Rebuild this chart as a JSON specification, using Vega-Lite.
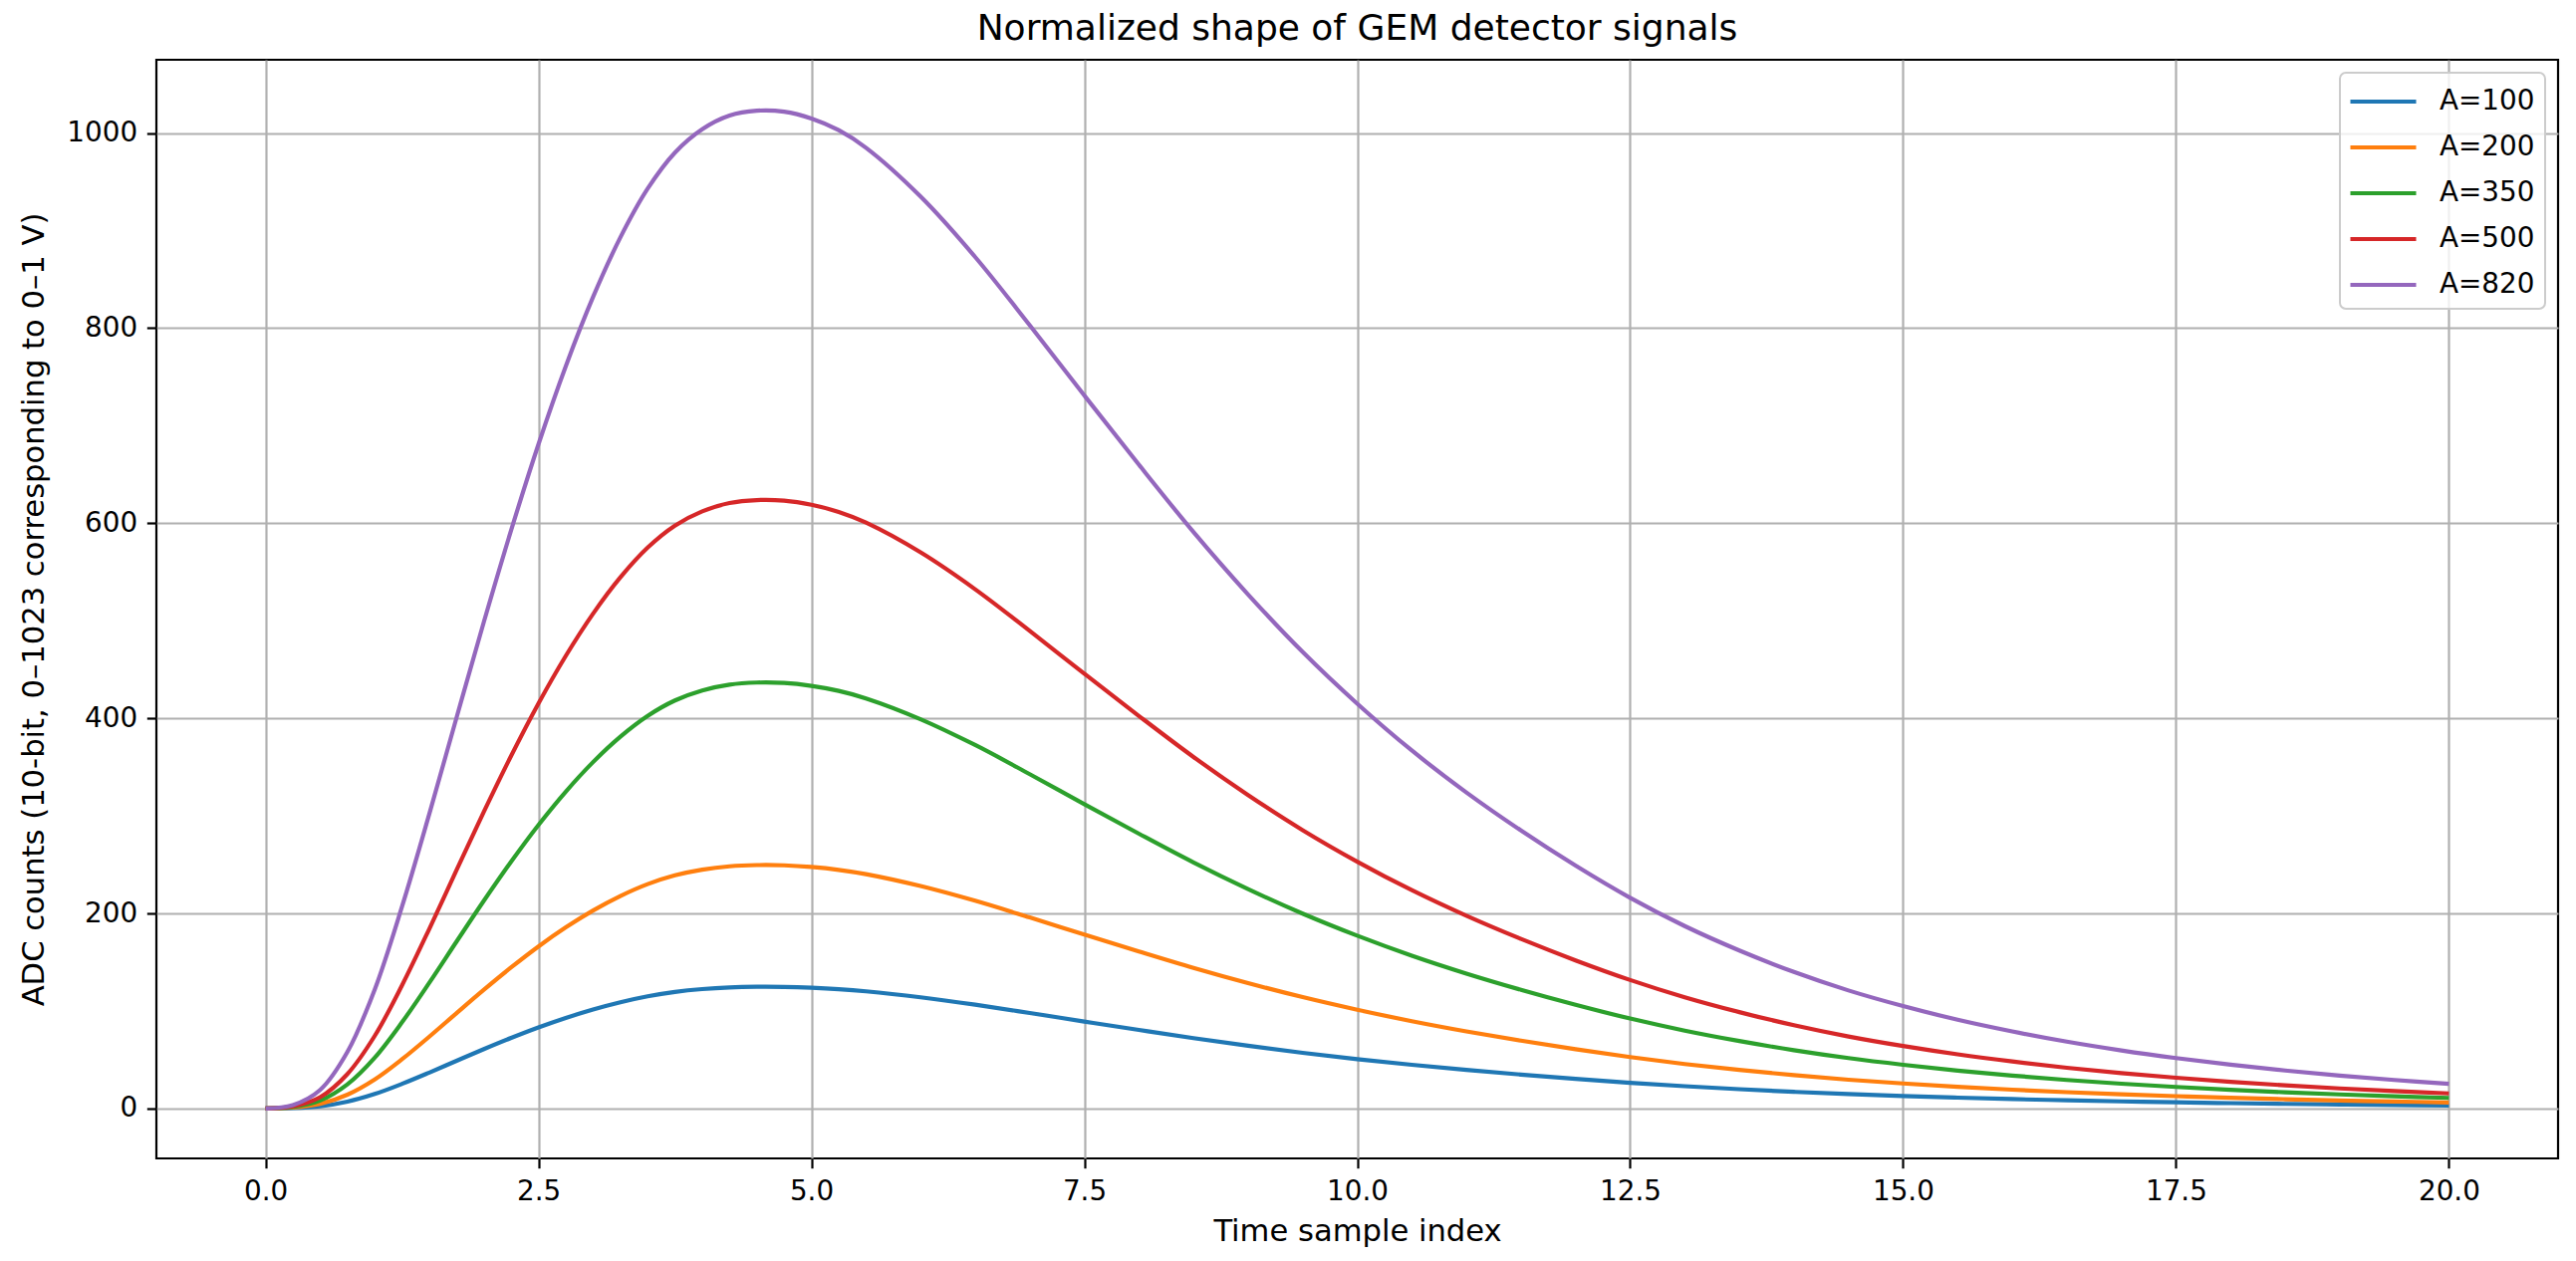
{
"$schema": "https://vega.github.io/schema/vega-lite/v6.json",
"width": 2411, "height": 1103,
"autosize": {"type": "none"},
"padding": {"left": 157, "top": 60, "right": 18, "bottom": 103},
"background": "white",
"title": {"text": "Normalized shape of GEM detector signals", "fontSize": 36, "font": "DejaVu Sans", "fontWeight": "normal", "color": "black", "anchor": "middle", "frame": "group", "offset": 12},
"config": {
 "view": {"stroke": "black", "strokeWidth": 2.2},
 "axis": {"domain": false, "tickColor": "black", "tickSize": 9.7, "tickWidth": 2.2, "labelFont": "DejaVu Sans", "labelFontSize": 27.8, "labelColor": "black", "labelPadding": 9.7, "labelFlush": false, "labelOverlap": false, "titleFont": "DejaVu Sans", "titleFontSize": 30.6, "titleFontWeight": "normal", "titleColor": "black", "gridColor": "#b0b0b0", "gridWidth": 2.2, "gridOpacity": 1, "titlePadding": 11},
 "legend": {"symbolType": "M-2,0H2", "symbolSize": 1089, "symbolStrokeWidth": 4.17, "symbolOffset": 14.5, "labelOffset": 37.5, "labelFont": "DejaVu Sans", "labelFontSize": 27.8, "labelColor": "black", "rowPadding": 13, "padding": 10, "strokeColor": "#cccccc", "strokeWidth": 2, "cornerRadius": 6, "fillColor": "rgba(255,255,255,0.8)", "offset": 13, "symbolOpacity": 1}
},
"data": {"values": [
{"s":"A=100","t":0,"v":0},{"s":"A=100","t":0.25,"v":0.43},{"s":"A=100","t":0.5,"v":2.32},{"s":"A=100","t":0.75,"v":7.07},{"s":"A=100","t":1,"v":14.88},{"s":"A=100","t":1.25,"v":25.24},{"s":"A=100","t":1.5,"v":36.83},{"s":"A=100","t":1.75,"v":48.9},{"s":"A=100","t":2,"v":60.85},{"s":"A=100","t":2.25,"v":72.32},{"s":"A=100","t":2.5,"v":83.05},{"s":"A=100","t":2.75,"v":92.8},{"s":"A=100","t":3,"v":101.46},{"s":"A=100","t":3.25,"v":108.9},{"s":"A=100","t":3.5,"v":115.0},{"s":"A=100","t":3.75,"v":119.51},{"s":"A=100","t":4,"v":122.44},{"s":"A=100","t":4.25,"v":124.15},{"s":"A=100","t":4.5,"v":124.76},{"s":"A=100","t":4.75,"v":124.63},{"s":"A=100","t":5,"v":123.78},{"s":"A=100","t":5.25,"v":122.32},{"s":"A=100","t":5.5,"v":120.12},{"s":"A=100","t":6,"v":114.02},{"s":"A=100","t":6.5,"v":106.46},{"s":"A=100","t":7,"v":97.93},{"s":"A=100","t":7.5,"v":89.15},{"s":"A=100","t":8,"v":80.49},{"s":"A=100","t":8.5,"v":72.07},{"s":"A=100","t":9,"v":64.27},{"s":"A=100","t":9.5,"v":57.07},{"s":"A=100","t":10,"v":50.61},{"s":"A=100","t":10.5,"v":44.76},{"s":"A=100","t":11,"v":39.51},{"s":"A=100","t":11.5,"v":34.76},{"s":"A=100","t":12,"v":30.37},{"s":"A=100","t":12.5,"v":26.34},{"s":"A=100","t":13,"v":22.8},{"s":"A=100","t":13.5,"v":19.76},{"s":"A=100","t":14,"v":17.07},{"s":"A=100","t":14.5,"v":14.76},{"s":"A=100","t":15,"v":12.8},{"s":"A=100","t":15.5,"v":11.1},{"s":"A=100","t":16,"v":9.63},{"s":"A=100","t":16.5,"v":8.35},{"s":"A=100","t":17,"v":7.26},{"s":"A=100","t":17.5,"v":6.3},{"s":"A=100","t":18,"v":5.48},{"s":"A=100","t":18.5,"v":4.74},{"s":"A=100","t":19,"v":4.11},{"s":"A=100","t":19.5,"v":3.56},{"s":"A=100","t":20,"v":3.09},
{"s":"A=200","t":0,"v":0},{"s":"A=200","t":0.25,"v":0.85},{"s":"A=200","t":0.5,"v":4.63},{"s":"A=200","t":0.75,"v":14.15},{"s":"A=200","t":1,"v":29.76},{"s":"A=200","t":1.25,"v":50.49},{"s":"A=200","t":1.5,"v":73.66},{"s":"A=200","t":1.75,"v":97.8},{"s":"A=200","t":2,"v":121.71},{"s":"A=200","t":2.25,"v":144.63},{"s":"A=200","t":2.5,"v":166.1},{"s":"A=200","t":2.75,"v":185.61},{"s":"A=200","t":3,"v":202.93},{"s":"A=200","t":3.25,"v":217.8},{"s":"A=200","t":3.5,"v":230.0},{"s":"A=200","t":3.75,"v":239.02},{"s":"A=200","t":4,"v":244.88},{"s":"A=200","t":4.25,"v":248.29},{"s":"A=200","t":4.5,"v":249.51},{"s":"A=200","t":4.75,"v":249.27},{"s":"A=200","t":5,"v":247.56},{"s":"A=200","t":5.25,"v":244.63},{"s":"A=200","t":5.5,"v":240.24},{"s":"A=200","t":6,"v":228.05},{"s":"A=200","t":6.5,"v":212.93},{"s":"A=200","t":7,"v":195.85},{"s":"A=200","t":7.5,"v":178.29},{"s":"A=200","t":8,"v":160.98},{"s":"A=200","t":8.5,"v":144.15},{"s":"A=200","t":9,"v":128.54},{"s":"A=200","t":9.5,"v":114.15},{"s":"A=200","t":10,"v":101.22},{"s":"A=200","t":10.5,"v":89.51},{"s":"A=200","t":11,"v":79.02},{"s":"A=200","t":11.5,"v":69.51},{"s":"A=200","t":12,"v":60.73},{"s":"A=200","t":12.5,"v":52.68},{"s":"A=200","t":13,"v":45.61},{"s":"A=200","t":13.5,"v":39.51},{"s":"A=200","t":14,"v":34.15},{"s":"A=200","t":14.5,"v":29.51},{"s":"A=200","t":15,"v":25.61},{"s":"A=200","t":15.5,"v":22.2},{"s":"A=200","t":16,"v":19.27},{"s":"A=200","t":16.5,"v":16.71},{"s":"A=200","t":17,"v":14.51},{"s":"A=200","t":17.5,"v":12.61},{"s":"A=200","t":18,"v":10.95},{"s":"A=200","t":18.5,"v":9.49},{"s":"A=200","t":19,"v":8.22},{"s":"A=200","t":19.5,"v":7.12},{"s":"A=200","t":20,"v":6.17},
{"s":"A=350","t":0,"v":0},{"s":"A=350","t":0.25,"v":1.49},{"s":"A=350","t":0.5,"v":8.11},{"s":"A=350","t":0.75,"v":24.76},{"s":"A=350","t":1,"v":52.07},{"s":"A=350","t":1.25,"v":88.35},{"s":"A=350","t":1.5,"v":128.9},{"s":"A=350","t":1.75,"v":171.16},{"s":"A=350","t":2,"v":212.99},{"s":"A=350","t":2.25,"v":253.11},{"s":"A=350","t":2.5,"v":290.67},{"s":"A=350","t":2.75,"v":324.82},{"s":"A=350","t":3,"v":355.12},{"s":"A=350","t":3.25,"v":381.16},{"s":"A=350","t":3.5,"v":402.5},{"s":"A=350","t":3.75,"v":418.29},{"s":"A=350","t":4,"v":428.54},{"s":"A=350","t":4.25,"v":434.51},{"s":"A=350","t":4.5,"v":436.65},{"s":"A=350","t":4.75,"v":436.22},{"s":"A=350","t":5,"v":433.23},{"s":"A=350","t":5.25,"v":428.11},{"s":"A=350","t":5.5,"v":420.43},{"s":"A=350","t":6,"v":399.09},{"s":"A=350","t":6.5,"v":372.62},{"s":"A=350","t":7,"v":342.74},{"s":"A=350","t":7.5,"v":312.01},{"s":"A=350","t":8,"v":281.71},{"s":"A=350","t":8.5,"v":252.26},{"s":"A=350","t":9,"v":224.94},{"s":"A=350","t":9.5,"v":199.76},{"s":"A=350","t":10,"v":177.13},{"s":"A=350","t":10.5,"v":156.65},{"s":"A=350","t":11,"v":138.29},{"s":"A=350","t":11.5,"v":121.65},{"s":"A=350","t":12,"v":106.28},{"s":"A=350","t":12.5,"v":92.2},{"s":"A=350","t":13,"v":79.82},{"s":"A=350","t":13.5,"v":69.15},{"s":"A=350","t":14,"v":59.76},{"s":"A=350","t":14.5,"v":51.65},{"s":"A=350","t":15,"v":44.82},{"s":"A=350","t":15.5,"v":38.84},{"s":"A=350","t":16,"v":33.72},{"s":"A=350","t":16.5,"v":29.24},{"s":"A=350","t":17,"v":25.4},{"s":"A=350","t":17.5,"v":22.07},{"s":"A=350","t":18,"v":19.16},{"s":"A=350","t":18.5,"v":16.6},{"s":"A=350","t":19,"v":14.38},{"s":"A=350","t":19.5,"v":12.46},{"s":"A=350","t":20,"v":10.8},
{"s":"A=500","t":0,"v":0},{"s":"A=500","t":0.25,"v":2.13},{"s":"A=500","t":0.5,"v":11.59},{"s":"A=500","t":0.75,"v":35.37},{"s":"A=500","t":1,"v":74.39},{"s":"A=500","t":1.25,"v":126.22},{"s":"A=500","t":1.5,"v":184.15},{"s":"A=500","t":1.75,"v":244.51},{"s":"A=500","t":2,"v":304.27},{"s":"A=500","t":2.25,"v":361.59},{"s":"A=500","t":2.5,"v":415.24},{"s":"A=500","t":2.75,"v":464.02},{"s":"A=500","t":3,"v":507.32},{"s":"A=500","t":3.25,"v":544.51},{"s":"A=500","t":3.5,"v":575.0},{"s":"A=500","t":3.75,"v":597.56},{"s":"A=500","t":4,"v":612.2},{"s":"A=500","t":4.25,"v":620.73},{"s":"A=500","t":4.5,"v":623.78},{"s":"A=500","t":4.75,"v":623.17},{"s":"A=500","t":5,"v":618.9},{"s":"A=500","t":5.25,"v":611.59},{"s":"A=500","t":5.5,"v":600.61},{"s":"A=500","t":6,"v":570.12},{"s":"A=500","t":6.5,"v":532.32},{"s":"A=500","t":7,"v":489.63},{"s":"A=500","t":7.5,"v":445.73},{"s":"A=500","t":8,"v":402.44},{"s":"A=500","t":8.5,"v":360.37},{"s":"A=500","t":9,"v":321.34},{"s":"A=500","t":9.5,"v":285.37},{"s":"A=500","t":10,"v":253.05},{"s":"A=500","t":10.5,"v":223.78},{"s":"A=500","t":11,"v":197.56},{"s":"A=500","t":11.5,"v":173.78},{"s":"A=500","t":12,"v":151.83},{"s":"A=500","t":12.5,"v":131.71},{"s":"A=500","t":13,"v":114.02},{"s":"A=500","t":13.5,"v":98.78},{"s":"A=500","t":14,"v":85.37},{"s":"A=500","t":14.5,"v":73.78},{"s":"A=500","t":15,"v":64.02},{"s":"A=500","t":15.5,"v":55.49},{"s":"A=500","t":16,"v":48.17},{"s":"A=500","t":16.5,"v":41.77},{"s":"A=500","t":17,"v":36.28},{"s":"A=500","t":17.5,"v":31.52},{"s":"A=500","t":18,"v":27.38},{"s":"A=500","t":18.5,"v":23.72},{"s":"A=500","t":19,"v":20.55},{"s":"A=500","t":19.5,"v":17.8},{"s":"A=500","t":20,"v":15.43},
{"s":"A=820","t":0,"v":0},{"s":"A=820","t":0.25,"v":3.5},{"s":"A=820","t":0.5,"v":19},{"s":"A=820","t":0.75,"v":58},{"s":"A=820","t":1,"v":122},{"s":"A=820","t":1.25,"v":207},{"s":"A=820","t":1.5,"v":302},{"s":"A=820","t":1.75,"v":401},{"s":"A=820","t":2,"v":499},{"s":"A=820","t":2.25,"v":593},{"s":"A=820","t":2.5,"v":681},{"s":"A=820","t":2.75,"v":761},{"s":"A=820","t":3,"v":832},{"s":"A=820","t":3.25,"v":893},{"s":"A=820","t":3.5,"v":943},{"s":"A=820","t":3.75,"v":980},{"s":"A=820","t":4,"v":1004},{"s":"A=820","t":4.25,"v":1018},{"s":"A=820","t":4.5,"v":1023},{"s":"A=820","t":4.75,"v":1022},{"s":"A=820","t":5,"v":1015},{"s":"A=820","t":5.25,"v":1003},{"s":"A=820","t":5.5,"v":985},{"s":"A=820","t":6,"v":935},{"s":"A=820","t":6.5,"v":873},{"s":"A=820","t":7,"v":803},{"s":"A=820","t":7.5,"v":731},{"s":"A=820","t":8,"v":660},{"s":"A=820","t":8.5,"v":591},{"s":"A=820","t":9,"v":527},{"s":"A=820","t":9.5,"v":468},{"s":"A=820","t":10,"v":415},{"s":"A=820","t":10.5,"v":367},{"s":"A=820","t":11,"v":324},{"s":"A=820","t":11.5,"v":285},{"s":"A=820","t":12,"v":249},{"s":"A=820","t":12.5,"v":216},{"s":"A=820","t":13,"v":187},{"s":"A=820","t":13.5,"v":162},{"s":"A=820","t":14,"v":140},{"s":"A=820","t":14.5,"v":121},{"s":"A=820","t":15,"v":105},{"s":"A=820","t":15.5,"v":91},{"s":"A=820","t":16,"v":79},{"s":"A=820","t":16.5,"v":68.5},{"s":"A=820","t":17,"v":59.5},{"s":"A=820","t":17.5,"v":51.7},{"s":"A=820","t":18,"v":44.9},{"s":"A=820","t":18.5,"v":38.9},{"s":"A=820","t":19,"v":33.7},{"s":"A=820","t":19.5,"v":29.2},{"s":"A=820","t":20,"v":25.3}
]},
"mark": {"type": "line", "strokeWidth": 4.17, "interpolate": "catmull-rom"},
"encoding": {
 "x": {"field": "t", "type": "quantitative", "scale": {"domain": [-1, 21], "nice": false, "zero": false}, "axis": {"values": [0, 2.5, 5, 7.5, 10, 12.5, 15, 17.5, 20], "format": ".1f", "title": "Time sample index"}},
 "y": {"field": "v", "type": "quantitative", "scale": {"domain": [-51.2, 1075.2], "nice": false, "zero": false}, "axis": {"values": [0, 200, 400, 600, 800, 1000], "format": "d", "title": "ADC counts (10-bit, 0–1023 corresponding to 0–1 V)", "titlePadding": 17}},
 "color": {"field": "s", "type": "nominal", "scale": {"domain": ["A=100", "A=200", "A=350", "A=500", "A=820"], "range": ["#1f77b4", "#ff7f0e", "#2ca02c", "#d62728", "#9467bd"]}, "legend": {"title": null, "orient": "top-right"}}
}
}
